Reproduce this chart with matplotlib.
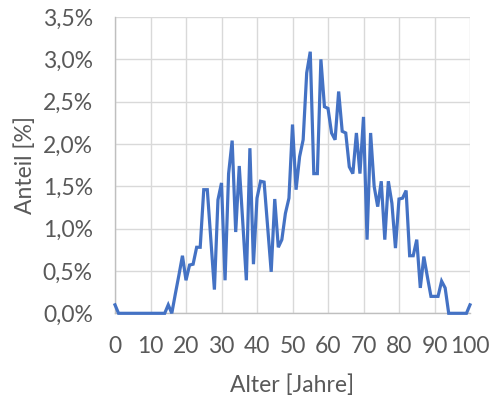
import numpy as np
import matplotlib.pyplot as plt
from matplotlib.ticker import FuncFormatter, MultipleLocator

# Alter 0..100, Anteil in %
alter = np.arange(0, 101)
anteil = [0.10, 0, 0, 0, 0, 0, 0, 0, 0, 0,
          0, 0, 0, 0, 0, 0.10, 0, 0.23, 0.45, 0.68,
          0.39, 0.57, 0.58, 0.78, 0.78, 1.46, 1.46, 0.87, 0.28, 1.34,
          1.54, 0.39, 1.65, 2.04, 0.96, 1.74, 1.07, 0.39, 1.95, 0.58,
          1.36, 1.56, 1.55, 1.02, 0.49, 1.35, 0.78, 0.87, 1.18, 1.36,
          2.23, 1.46, 1.85, 2.05, 2.84, 3.09, 1.65, 1.65, 3.00, 2.44,
          2.42, 2.13, 2.05, 2.62, 2.15, 2.13, 1.73, 1.65, 2.13, 1.65,
          2.32, 0.87, 2.13, 1.50, 1.26, 1.56, 0.87, 1.56, 1.30, 0.77,
          1.35, 1.36, 1.45, 0.68, 0.68, 0.87, 0.30, 0.67, 0.43, 0.20,
          0.20, 0.20, 0.38, 0.30, 0, 0, 0, 0, 0, 0,
          0.10]

txt = '#595959'
fs = 16.5
plt.rcParams['font.family'] = ['Lato', 'DejaVu Sans']

fig = plt.figure(figsize=(4.9, 3.96), dpi=100)
ax = fig.add_axes([115/490, 1 - 313.3/396, 355/490, 296.3/396])

ax.plot(alter, anteil, color='#4472C4', lw=2.3, solid_joinstyle='miter', clip_on=False, zorder=3)

ax.set_xlim(0, 100)
ax.set_ylim(0, 3.5)
ax.xaxis.set_major_locator(MultipleLocator(10))
ax.yaxis.set_major_locator(MultipleLocator(0.5))
ax.yaxis.set_major_formatter(FuncFormatter(lambda v, p: f'{v:.1f}%'.replace('.', ',')))
ax.grid(True, color='#d9d9d9', lw=1.0)
ax.set_axisbelow(True)
for s in ['top', 'right']:
    ax.spines[s].set_visible(False)
for s in ['left', 'bottom']:
    ax.spines[s].set_color('#bfbfbf')
    ax.spines[s].set_linewidth(1.0)
ax.tick_params(length=0, labelsize=fs, colors=txt)
ax.tick_params(axis='y', pad=16)
ax.tick_params(axis='x', pad=16)

ax.set_xlabel('Alter [Jahre]', fontsize=fs, color=txt, labelpad=13)
ax.set_ylabel('Anteil [%]', fontsize=fs, color=txt, labelpad=5)

fig.savefig('out.png', dpi=100)
